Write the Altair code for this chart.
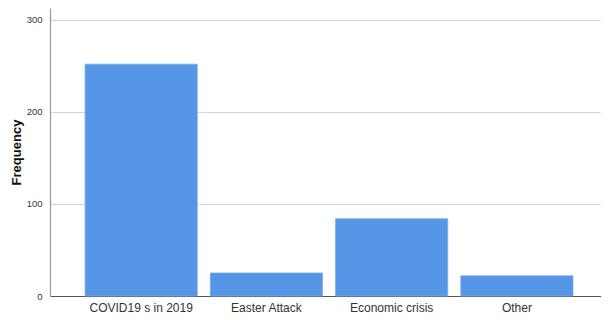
import altair as alt
import pandas as pd

categories = ["COVID19 s in 2019", "Easter Attack", "Economic crisis", "Other"]
frequencies = [252, 25, 84, 22]
y_ticks = [0, 100, 200, 300]

df = pd.DataFrame({"category": categories, "freq": frequencies})

chart = alt.Chart(df).mark_bar(color="#5595e5", stroke="#7aaef0", strokeWidth=0.8).encode(
    x=alt.X("category:N", sort=categories, title=None,
            scale=alt.Scale(paddingInner=0.104, paddingOuter=0.252, align=0.556),
            axis=alt.Axis(labelAngle=0, labelFont="Liberation Sans", labelFontSize=12,
                          labelColor="#333333", ticks=False, domainColor="#555555",
                          domainWidth=1.2, labelPadding=6, grid=False)),
    y=alt.Y("freq:Q", title="Frequency",
            scale=alt.Scale(domain=[0, 313], nice=False),
            axis=alt.Axis(values=y_ticks, labelFont="Liberation Sans", labelFontSize=9.5,
                          labelColor="#333333", ticks=False, domainColor="#999999",
                          domainWidth=1.2, gridColor="#d4d4d4", gridWidth=1.2,
                          labelPadding=8, titleFont="Liberation Sans", titleFontSize=13,
                          titleFontWeight="bold", titleColor="#111111", titlePadding=3)),
).properties(
    width=551, height=288, padding={"left": 42, "top": 0, "right": 0, "bottom": 22},
    autosize=alt.AutoSizeParams(type="none")
).configure_view(stroke=None)

chart.save("out.html", embed_options={"renderer": "svg", "actions": False})
